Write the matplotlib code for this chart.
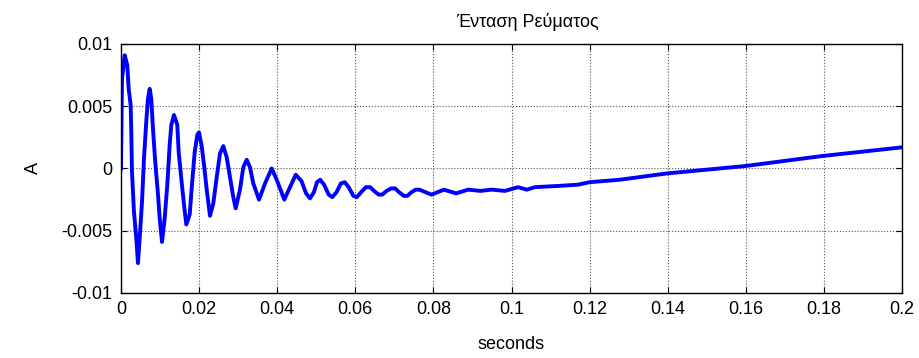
import numpy as np
import matplotlib.pyplot as plt

plt.rcParams['font.family'] = ['Liberation Sans', 'DejaVu Sans']

# current samples (seconds, A)
t = [0.0, 0.00026, 0.00095, 0.00161, 0.00197, 0.00248, 0.00264, 0.00282, 0.00333,
     0.00392, 0.00435, 0.00479, 0.00538, 0.00589, 0.00648, 0.00691, 0.00735, 0.00776,
     0.00819, 0.00878, 0.00948, 0.00991, 0.0105, 0.01119, 0.01186, 0.01247, 0.01288,
     0.01357, 0.01442, 0.01478, 0.01544, 0.01606, 0.01672, 0.01759, 0.01818, 0.01887,
     0.01954, 0.01997, 0.02067, 0.02133, 0.02195, 0.02279, 0.02364, 0.02451, 0.02535,
     0.0262, 0.02707, 0.02791, 0.02876, 0.02937, 0.03047, 0.03132, 0.03219, 0.03303,
     0.03388, 0.03534, 0.03688, 0.03859, 0.03987, 0.04182, 0.04328, 0.04474, 0.0462,
     0.0474, 0.0484, 0.0494, 0.0502, 0.0510, 0.0520, 0.0532, 0.0541, 0.0552,
     0.0563, 0.0573, 0.0583, 0.0595, 0.0604, 0.0615, 0.0627, 0.0638, 0.0648,
     0.0660, 0.0669, 0.0680, 0.0692, 0.0702, 0.0712, 0.0724, 0.0733, 0.0744,
     0.0755, 0.0764, 0.0795, 0.0827, 0.0858, 0.0889, 0.0920, 0.0949, 0.0983,
     0.1017, 0.1039, 0.1060, 0.1120, 0.1170, 0.1200, 0.1278, 0.1397, 0.1599,
     0.1795, 0.2000]
i_A = [0.0, 0.0072, 0.0091, 0.0083, 0.0064, 0.0051, 0.0030, -0.0003, -0.0035,
       -0.0056, -0.0076, -0.0056, -0.0027, 0.0008, 0.0038, 0.0056, 0.0064, 0.0056,
       0.0032, 0.0005, -0.0021, -0.0040, -0.0059, -0.0040, -0.0013, 0.0019, 0.0035,
       0.0043, 0.0035, 0.0013, -0.0008, -0.0027, -0.0045, -0.0037, -0.0013, 0.0013,
       0.0027, 0.0029, 0.0018, 0.0001, -0.0017, -0.0038, -0.0028, -0.0007, 0.0012,
       0.0018, 0.0009, -0.0007, -0.0023, -0.0032, -0.0017, 0.0001, 0.0007, 0.0001,
       -0.0012, -0.0025, -0.0012, 0.0000, -0.0009, -0.0025, -0.0015, -0.0005, -0.0010,
       -0.0020, -0.0024, -0.0019, -0.0011, -0.0009, -0.0013, -0.0021, -0.0023, -0.0019,
       -0.0012, -0.0011, -0.0015, -0.0022, -0.0023, -0.0019, -0.0015, -0.0015, -0.0018,
       -0.0021, -0.0021, -0.0018, -0.0016, -0.0016, -0.0019, -0.0022, -0.0022, -0.0019,
       -0.0017, -0.0017, -0.0021, -0.0017, -0.0020, -0.0017, -0.0018, -0.0017, -0.0018,
       -0.0015, -0.0017, -0.0015, -0.0014, -0.0013, -0.0011, -0.0009, -0.0004, 0.0002,
       0.0010, 0.0017]

xticks = [0, 0.02, 0.04, 0.06, 0.08, 0.1, 0.12, 0.14, 0.16, 0.18, 0.2]
xticklabels = ['0', '0.02', '0.04', '0.06', '0.08', '0.1', '0.12', '0.14', '0.16', '0.18', '0.2']
yticks = [-0.01, -0.005, 0, 0.005, 0.01]
yticklabels = ['-0.01', '-0.005', '0', '0.005', '0.01']

fig = plt.figure(figsize=(9.2, 3.58), dpi=100)
ax = fig.add_axes([0.1315, 0.1816, 0.849, 0.6955])
ax.plot(t, i_A, color='#0000ff', linewidth=2.8, solid_joinstyle='round')
ax.set_xlim(0, 0.2)
ax.set_ylim(-0.01, 0.01)
ax.set_xticks(xticks)
ax.set_xticklabels(xticklabels)
ax.set_yticks(yticks)
ax.set_yticklabels(yticklabels)
ax.tick_params(direction='in', top=True, right=True, length=4, labelsize=13, pad=6)
ax.grid(ls=':', color='#555555', linewidth=0.8)
for s in ax.spines.values():
    s.set_linewidth(1.0)
ax.set_xlabel('seconds', fontsize=13, labelpad=13)
ax.set_ylabel('A', fontsize=13, labelpad=14)
ax.set_title('Ένταση Ρεύματος', fontsize=13, x=0.52, pad=12)

fig.savefig('out.png', dpi=100)
